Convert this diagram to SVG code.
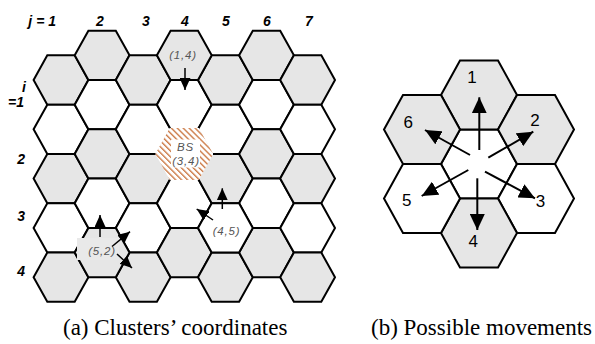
<svg xmlns="http://www.w3.org/2000/svg" width="595" height="344" viewBox="0 0 595 344">
<style>
.g{fill:#e6e6e6}
.w{fill:#fff}
.hx{stroke:#000;stroke-width:2}
.ax{font-family:"Liberation Sans",Arial,sans-serif;font-size:14px;font-weight:bold;font-style:italic;fill:#000}
.lb{font-family:"Liberation Sans",Arial,sans-serif;font-size:11.5px;font-style:italic;fill:#555;text-anchor:middle;letter-spacing:0.8px}
.num{font-family:"Liberation Sans",Arial,sans-serif;font-size:17px;fill:#000;text-anchor:middle}
.cap{font-family:"Liberation Serif","Times New Roman",serif;font-size:23px;fill:#000}
.a1{stroke:#000;stroke-width:1.5;fill:none;marker-end:url(#ah1)}
.a2{stroke:#000;stroke-width:2;fill:none;marker-end:url(#ah2)}
</style>
<defs>
<polygon id="hx" points="-27.4,0 -13.7,-24.65 13.7,-24.65 27.4,0 13.7,24.65 -13.7,24.65"/>
<polygon id="hx2" points="-38,0 -19,-34.5 19,-34.5 38,0 19,34.5 -19,34.5"/>
<marker id="ah1" markerUnits="userSpaceOnUse" markerWidth="12" markerHeight="11" refX="12" refY="5.5" orient="auto"><path d="M0,0L12,5.5L0,11z" fill="#000"/></marker>
<marker id="ah2" markerUnits="userSpaceOnUse" markerWidth="16" markerHeight="15" refX="16" refY="7.5" orient="auto"><path d="M0,0L16,7.5L0,15z" fill="#000"/></marker>
<pattern id="hatch" patternUnits="userSpaceOnUse" width="4.2" height="4.2" patternTransform="rotate(-45)">
<rect width="4.2" height="4.2" fill="#fff"/>
<rect width="1.4" height="4.2" fill="#cd7d4a"/>
</pattern>
</defs>

<g id="axis-labels">
<text class="ax" x="56" y="26" text-anchor="end">j = 1</text>
<text class="ax" x="100" y="26" text-anchor="middle">2</text>
<text class="ax" x="146" y="26" text-anchor="middle">3</text>
<text class="ax" x="185" y="26" text-anchor="middle">4</text>
<text class="ax" x="226" y="26" text-anchor="middle">5</text>
<text class="ax" x="267" y="26" text-anchor="middle">6</text>
<text class="ax" x="309" y="26" text-anchor="middle">7</text>
<text class="ax" x="26" y="92" text-anchor="end">i</text>
<text class="ax" x="24" y="107" text-anchor="end">=1</text>
<text class="ax" x="25" y="163.5" text-anchor="end">2</text>
<text class="ax" x="25" y="220.5" text-anchor="end">3</text>
<text class="ax" x="25" y="275.5" text-anchor="end">4</text>
</g>

<g id="c-1-1"><use href="#hx" class="hx g" x="61" y="80"/></g>
<g id="c-2-1"><use href="#hx" class="hx w" x="61" y="129.3"/></g>
<g id="c-3-1"><use href="#hx" class="hx g" x="61" y="178.6"/></g>
<g id="c-4-1"><use href="#hx" class="hx w" x="61" y="227.9"/></g>
<g id="c-5-1"><use href="#hx" class="hx g" x="61" y="277.2"/></g>

<g id="c-1-2"><use href="#hx" class="hx g" x="102.1" y="55.35"/></g>
<g id="c-2-2"><use href="#hx" class="hx w" x="102.1" y="104.65"/></g>
<g id="c-3-2"><use href="#hx" class="hx g" x="102.1" y="153.95"/></g>
<g id="c-4-2"><use href="#hx" class="hx w" x="102.1" y="203.25"/></g>

<g id="c-1-3"><use href="#hx" class="hx g" x="143.2" y="80"/></g>
<g id="c-2-3"><use href="#hx" class="hx w" x="143.2" y="129.3"/></g>
<g id="c-3-3"><use href="#hx" class="hx g" x="143.2" y="178.6"/></g>
<g id="c-4-3"><use href="#hx" class="hx w" x="143.2" y="227.9"/></g>
<g id="c-5-3"><use href="#hx" class="hx g" x="143.2" y="277.2"/></g>

<g id="c-2-4"><use href="#hx" class="hx w" x="184.3" y="104.65"/></g>
<g id="c-4-4"><use href="#hx" class="hx w" x="184.3" y="203.25"/></g>
<g id="c-5-4"><use href="#hx" class="hx g" x="184.3" y="252.55"/></g>

<g id="c-1-5"><use href="#hx" class="hx g" x="225.4" y="80"/></g>
<g id="c-2-5"><use href="#hx" class="hx w" x="225.4" y="129.3"/></g>
<g id="c-3-5"><use href="#hx" class="hx g" x="225.4" y="178.6"/></g>
<g id="c-5-5"><use href="#hx" class="hx g" x="225.4" y="277.2"/></g>

<g id="c-1-6"><use href="#hx" class="hx g" x="266.5" y="55.35"/></g>
<g id="c-2-6"><use href="#hx" class="hx w" x="266.5" y="104.65"/></g>
<g id="c-3-6"><use href="#hx" class="hx g" x="266.5" y="153.95"/></g>
<g id="c-4-6"><use href="#hx" class="hx w" x="266.5" y="203.25"/></g>
<g id="c-5-6"><use href="#hx" class="hx g" x="266.5" y="252.55"/></g>

<g id="c-1-7"><use href="#hx" class="hx g" x="307.6" y="80"/></g>
<g id="c-2-7"><use href="#hx" class="hx w" x="307.6" y="129.3"/></g>
<g id="c-3-7"><use href="#hx" class="hx g" x="307.6" y="178.6"/></g>
<g id="c-4-7"><use href="#hx" class="hx w" x="307.6" y="227.9"/></g>
<g id="c-5-7"><use href="#hx" class="hx g" x="307.6" y="277.2"/></g>

<g id="c-1-4"><use href="#hx" class="hx g" x="184.3" y="55.35"/><text class="lb" x="183" y="59">(1,4)</text></g>
<g id="c-4-5"><use href="#hx" class="hx w" x="225.4" y="227.9"/><text class="lb" x="226.5" y="234.5">(4,5)</text></g>
<g id="c-5-2"><use href="#hx" class="hx g" x="102.1" y="252.55"/><rect x="77" y="238" width="42" height="22" fill="#e9e9e9"/><text class="lb" x="102" y="254.5">(5,2)</text></g>
<g id="c-3-4"><use href="#hx" x="184.3" y="153.95" fill="#fff" stroke="#fff" stroke-width="2.6"/><use href="#hx" x="184.3" y="153.95" fill="url(#hatch)" stroke="url(#hatch)" stroke-width="2.6"/><rect x="171" y="139.5" width="29" height="28" fill="#fff"/><text class="lb" x="185.5" y="151">BS</text><text class="lb" x="186" y="164.5">(3,4)</text></g>

<g id="m0"><use href="#hx2" class="hx w" x="479" y="164"/></g>
<g id="m1"><use href="#hx2" class="hx g" x="479" y="95"/><text class="num" x="472" y="82.7">1</text></g>
<g id="m2"><use href="#hx2" class="hx g" x="536" y="129.5"/><text class="num" x="535" y="126">2</text></g>
<g id="m3"><use href="#hx2" class="hx w" x="536" y="198.5"/><text class="num" x="540.5" y="206.7">3</text></g>
<g id="m4"><use href="#hx2" class="hx g" x="479" y="233"/><text class="num" x="473.3" y="246.7">4</text></g>
<g id="m5"><use href="#hx2" class="hx w" x="422" y="198.5"/><text class="num" x="406.7" y="205.7">5</text></g>
<g id="m6"><use href="#hx2" class="hx g" x="422" y="129.5"/><text class="num" x="408.3" y="128.3">6</text></g>

<g id="connectors">
<line class="a1" x1="185" y1="68" x2="185" y2="90"/>
<line class="a1" x1="222.3" y1="209" x2="222.3" y2="188.3"/>
<line class="a1" x1="213" y1="220" x2="196.7" y2="209"/>
<line class="a1" x1="100" y1="237" x2="100" y2="215"/>
<line class="a1" x1="112" y1="246.5" x2="130" y2="231.7"/>
<line class="a1" x1="117" y1="254" x2="132" y2="268"/>
<line class="a2" x1="479.3" y1="150" x2="479.3" y2="97.3"/>
<line class="a2" x1="488.3" y1="157.7" x2="533.3" y2="131.7"/>
<line class="a2" x1="485" y1="171.7" x2="535" y2="198.3"/>
<line class="a2" x1="477.3" y1="178.3" x2="477.3" y2="230"/>
<line class="a2" x1="468.3" y1="170" x2="421.7" y2="196"/>
<line class="a2" x1="470" y1="155" x2="425" y2="130"/>
</g>

<g id="captions">
<text class="cap" x="63" y="335">(a) Clusters’ coordinates</text>
<text class="cap" x="371" y="335">(b) Possible movements</text>
</g>
</svg>
